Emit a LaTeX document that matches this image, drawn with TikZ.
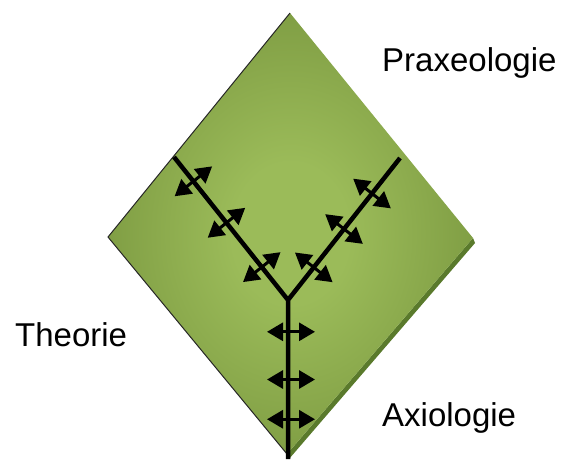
\documentclass[tikz,border=0pt]{standalone}
\usepackage{fontspec}
\setmainfont{Liberation Sans}
\usetikzlibrary{calc,arrows.meta}

\definecolor{leafLight}{HTML}{9BBB59}
\definecolor{leafDark}{HTML}{6F8C37}
\definecolor{leafEdge}{HTML}{5A7A2C}
\pgfdeclareradialshading{leaf}{\pgfpoint{0bp}{0bp}}{%
  color(0bp)=(leafLight); color(8bp)=(leafLight);
  color(36bp)=(leafDark); color(50bp)=(leafDark)}

\begin{document}
\begin{tikzpicture}[x=1pt,y=-1pt]

    % `label' is for the three names round the diamond.
    % `branch' is the thick Y, `dbl' the small two-headed arrows.
    \tikzstyle{label} = [anchor=base west,inner sep=0pt,font=\fontsize{33}{40}\selectfont]
    \tikzstyle{branch} = [line width=4.5pt,black]
    \tikzstyle{dbl} = [line width=3pt,{Triangle[length=16pt,width=18pt]}-{Triangle[length=16pt,width=18pt]}]
    %
    \useasboundingbox (0,0) rectangle (564,459);

    % Corners of the diamond.
    \coordinate (top) at (290,13);
    \coordinate (left) at (108,237);
    \coordinate (bottom) at (287,454);
    \coordinate (right) at (473,238);

    % Thickness along the lower right edge, then the face.
    \fill[leafEdge] (right) -- ($(right)+(2,5)$) -- ($(bottom)+(2,5)$) -- (bottom) -- cycle;
    \shade[shading=leaf] (top) -- (right) -- (bottom) -- (left) -- cycle;
    \draw[line width=1pt,black!85] (bottom) -- (left) -- (top);

    % Ends of the Y.
    \coordinate (fork) at (288,300);
    \coordinate (theoEnd) at (174,157);
    \coordinate (praxEnd) at (400,158);
    \coordinate (axioEnd) at (288,459);
    % the stem arrows sit a little right of the stem
    \coordinate (stemTop) at (291,300);
    \coordinate (stemEnd) at (291,459);

    \draw[branch] (theoEnd) -- (fork) -- (praxEnd) (fork) -- (axioEnd);

    \foreach \t in {0.17,0.46,0.77}
        \draw[dbl] ($(theoEnd)!\t!(fork)!24pt!90:(fork)$) -- ($(theoEnd)!\t!(fork)!24pt!-90:(fork)$);
    \foreach \t in {0.25,0.50,0.77}
        \draw[dbl] ($(praxEnd)!\t!(fork)!24pt!90:(fork)$) -- ($(praxEnd)!\t!(fork)!24pt!-90:(fork)$);
    \foreach \t in {0.20,0.50,0.75}
        \draw[dbl] ($(stemTop)!\t!(stemEnd)!24pt!90:(stemEnd)$) -- ($(stemTop)!\t!(stemEnd)!24pt!-90:(stemEnd)$);

    % Names.
    \node[label] (praxis) at (382,71) {Praxeologie};
    \node[label] (theorie) at (15,346) {Theorie};
    \node[label] (axiologie) at (382,426) {Axiologie};
    %
\end{tikzpicture}
\end{document}
